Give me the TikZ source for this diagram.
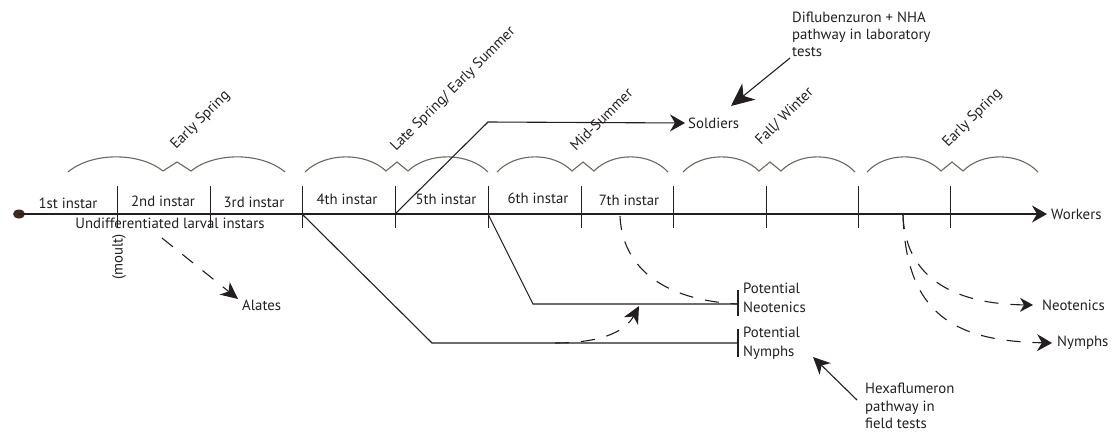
\documentclass[tikz,border=0pt]{standalone}
\usepackage{fontspec}
\setmainfont{PT Sans}
\usetikzlibrary{arrows.meta,shapes.geometric}
\definecolor{ink}{RGB}{35,31,32}
\definecolor{bracec}{RGB}{112,102,94}
\definecolor{dotc}{RGB}{62,42,32}
\newcommand\seasonbrace[5]{% left x, centre x, right x, half zig width, name
  \draw[brc] (#1,172) .. controls ({#1+0.25*(#2-#4-#1)},152) and ({#2-#4-0.25*(#2-#4-#1)},152) .. (#2-#4,171)
     -- (#2,162) -- (#2+#4,171)
     .. controls ({#2+#4+0.25*(#3-#2-#4)},152) and ({#3-0.25*(#3-#2-#4)},152) .. (#3,172);
  \coordinate (#5) at (#2,160);}
\begin{document}
\begin{tikzpicture}[x=1pt,y=-1pt,
  font=\fontsize{14.8}{17}\selectfont,
  lbl/.style={inner sep=0pt, text=ink},
  season/.style={lbl, rotate=45, anchor=base west},
  mainline/.style={draw=ink, line width=1.3pt},
  tickline/.style={draw=ink, line width=0.9pt},
  conn/.style={draw=ink, line width=1.1pt},
  dashline/.style={draw=ink, line width=1.1pt, dash pattern=on 14pt off 12pt},
  brc/.style={draw=bracec, line width=1.1pt},
  tipS/.style={-{Stealth[length=15pt,width=17pt,inset=5pt]}},
  tipM/.style={-{Stealth[length=17pt,width=16pt,inset=5pt]}},
  tipL/.style={-{Stealth[length=23pt,width=21pt,inset=7pt]}}
]
\useasboundingbox (0,0) rectangle (1113,434);

% start dot and main time line
\node[ellipse, fill=dotc, minimum width=12pt, minimum height=9pt, inner sep=0pt] (dot) at (19,214) {};
\node[lbl, anchor=west] (workers) at (1051,214) {Workers};
\draw[mainline, tipS] (dot.center) -- ([xshift=-4pt]workers.west);

% moult ticks
\foreach \i/\x in {1/117,2/210,3/302,4/395,5/488,6/581,7/673,8/766,9/858,10/950}{
  \coordinate (t\i) at (\x,214);
  \draw[tickline] (\x,186) -- (\x,228);
}

% instar labels
\node[lbl] (i1) at (68,203) {1st instar};
\node[lbl] (i2) at (163,201) {2nd instar};
\node[lbl] (i3) at (254,202) {3rd instar};
\node[lbl] (i4) at (347,199) {4th instar};
\node[lbl] (i5) at (446,199) {5th instar};
\node[lbl] (i6) at (538,198) {6th instar};
\node[lbl] (i7) at (629,200) {7th instar};
\node[lbl] (undiff) at (170,223) {Undifferentiated larval instars};
\node[lbl, rotate=90] (moult) at (119,257) {(moult)};

% season braces and labels
\seasonbrace{68}{177}{285}{14}{b1}
\seasonbrace{305}{397}{488}{11}{b2}
\seasonbrace{497}{583}{668}{11}{b3}
\seasonbrace{683}{770}{855}{11}{b4}
\seasonbrace{867}{952}{1038}{11}{b5}
\node[season] (s1) at (176,150) {Early Spring};
\node[season] (s2) at (396,152) {Late Spring/ Early Summer};
\node[season] (s3) at (576,152) {Mid-Summer};
\node[season] (s4) at (761,146) {Fall/ Winter};
\node[season] (s5) at (948,148) {Early Spring};

% soldiers
\coordinate (sbend) at (488,122);
\node[lbl, anchor=west] (soldiers) at (688,123) {Soldiers};
\draw[conn, tipS] (t4) -- (sbend) -- ([xshift=-3pt]soldiers.west);

% potential neotenics
\coordinate (nbend) at (533,304);
\coordinate (nbar) at (738,304);
\node[lbl, anchor=west, align=left, font=\fontsize{14.8}{19}\selectfont] (pneo) at (743,298) {Potential\\Neotenics};
\draw[conn] (t5) -- (nbend) -- (nbar);
\draw[conn] (738,290) -- (738,316);

% potential nymphs
\coordinate (ybend) at (432,343);
\coordinate (ybar) at (738,343);
\node[lbl, anchor=west, align=left, font=\fontsize{14.8}{19}\selectfont] (pnym) at (743,343) {Potential\\Nymphs};
\draw[conn] (t3) -- (ybend) -- (ybar);
\draw[conn] (738,329) -- (738,357);

% dashed pathways
\coordinate (d7) at (620,216);
\draw[dashline] (d7) .. controls (622,265) and (660,300) .. (nbar);
\coordinate (nymstart) at (555,343);
\coordinate (nymtip) at (639,306);
\draw[dashline, tipM] (nymstart) .. controls (600,343) and (625,332) .. (nymtip);

\coordinate (alstart) at (162,238);
\node[lbl, anchor=west] (alates) at (242,305) {Alates};
\draw[dashline, tipM] (alstart) -- (238,299);

\coordinate (rs) at (903,215);
\node[lbl, anchor=west] (neo) at (1042,305) {Neotenics};
\node[lbl, anchor=west] (nym) at (1057,343) {Nymphs};
\draw[dashline, -{Stealth[length=13pt,width=14pt,inset=4pt]}] (rs) .. controls (905,275) and (950,304) .. ([xshift=-9pt]neo.west);
\draw[dashline, tipS] (rs) .. controls (906,315) and (955,341) .. ([xshift=-5pt]nym.west);

% annotations
\node[lbl, anchor=west, align=left] (difl) at (792,34) {Diflubenzuron + NHA\\pathway in laboratory\\tests};
\draw[conn, tipL] (790,58) -- (731,106);
\node[lbl, anchor=west, align=left, font=\fontsize{14.8}{17.5}\selectfont] (hexa) at (865,406) {Hexaflumeron\\pathway in\\field tests};
\draw[conn, tipM] (857,400) -- (813,357);
\end{tikzpicture}
\end{document}
